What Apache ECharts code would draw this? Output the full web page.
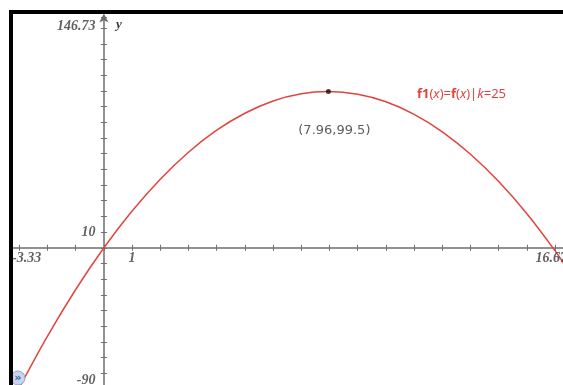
<!DOCTYPE html>
<html>
<head>
<meta charset="utf-8">
<script src="https://cdn.jsdelivr.net/npm/echarts@6/dist/echarts.min.js"></script>
<style>
  html, body { margin: 0; padding: 0; background: #fff; }
  #chart { width: 563px; height: 385px; }
</style>
</head>
<body>
<div id="chart"></div>
<script>
// Window of the graph
const xMin = -3.33, xMax = 16.67;
const yMin = -90, yMax = 146.73;

// Tick marks and the few labelled ticks
const xTickValues = [-3, -2, -1, 0, 1, 2, 3, 4, 5, 6, 7, 8, 9, 10, 11, 12, 13, 14, 15, 16];
const xLabelValues = [-3.33, 1, 16.67];
const yLabelValues = [-90, 10, 146.73];

// Sampled points of f1(x) = f(x)|k=25
const curveX = [-3.33, -3, -2, -1, 0, 1, 2, 3, 4, 5, 6, 7, 7.96, 9, 10, 11, 12, 13, 14, 15, 16, 16.67];
const curveY = [-100.7, -89.1, -56.3, -26.6, 0, 23.4, 43.7, 60.9, 74.9, 85.7, 93.5, 98.1, 99.5, 97.8, 93.0, 85.0, 73.9, 59.6, 42.2, 21.7, -2.0, -19.6];

// Maximum point
const peak = [7.96, 99.5];
const peakText = '(7.96,99.5)';

const curveColor = '#e2433f';
const axisColor = '#6e6e6e';
const labelFont = { fontFamily: 'Liberation Serif', fontStyle: 'italic', fontWeight: 'bold', fontSize: 14, color: '#3a3a3a' };

const chart = echarts.init(document.getElementById('chart'), null, { renderer: 'canvas' });

const baseX = {
  type: 'value', min: xMin, max: xMax, gridIndex: 0,
  splitLine: { show: false }, axisLabel: { show: false }
};
const baseY = {
  type: 'value', min: yMin, max: yMax, interval: 10, gridIndex: 0,
  splitLine: { show: false }, axisLabel: { show: false }
};

// Tick labels sit on the axes that cross at the origin
const xLabelData = xLabelValues.map((v, i) => ({
  value: [v, 0],
  label: { align: i === 0 ? 'left' : (i === xLabelValues.length - 1 ? 'right' : 'center'),
           offset: i === 0 ? [2, 0] : (i === xLabelValues.length - 1 ? [-7, 0] : [0, 0]) }
}));
const yLabelData = yLabelValues.map((v, i) => ({
  value: [0, v],
  label: { verticalAlign: i === 0 ? 'bottom' : (i === yLabelValues.length - 1 ? 'top' : 'middle'),
           offset: i === 0 ? [0, -2] : (i === yLabelValues.length - 1 ? [0, 2] : [0, 0]) }
}));

const hiddenMark = { symbol: 'circle', symbolSize: 1, itemStyle: { color: 'rgba(0,0,0,0)' } };

chart.setOption({
  animation: false,
  backgroundColor: '#fff',
  grid: { left: 10, top: 17.5, width: 564, height: 371.5, outerBoundsMode: 'none', containLabel: false },
  xAxis: [
    Object.assign({}, baseX, {
      position: 'bottom',
      axisLine: { onZero: true, lineStyle: { color: axisColor, width: 1.5 } },
      axisTick: { customValues: xTickValues, length: 3, lineStyle: { color: axisColor, width: 1 } }
    }),
    Object.assign({}, baseX, {
      position: 'bottom',
      axisLine: { show: false, onZero: true, onZeroAxisIndex: 0 },
      axisTick: { inside: true, customValues: xTickValues, length: 3, lineStyle: { color: axisColor, width: 1 } }
    })
  ],
  yAxis: [
    Object.assign({}, baseY, {
      position: 'left',
      axisLine: { onZero: true, symbol: ['none', 'arrow'], symbolSize: [7, 9], symbolOffset: [0, 4],
        lineStyle: { color: axisColor, width: 1.5 } },
      axisTick: { length: 3, lineStyle: { color: axisColor, width: 1 } }
    }),
    Object.assign({}, baseY, {
      position: 'left',
      axisLine: { show: false, onZero: true, onZeroAxisIndex: 0 },
      axisTick: { inside: true, length: 3, lineStyle: { color: axisColor, width: 1 } }
    })
  ],
  series: [
    {
      type: 'line',
      xAxisIndex: 0, yAxisIndex: 0,
      data: curveX.map((x, i) => [x, curveY[i]]),
      smooth: 0.35,
      showSymbol: false,
      clip: true,
      lineStyle: { color: curveColor, width: 1.5 },
      z: 3
    },
    {
      type: 'scatter',
      xAxisIndex: 0, yAxisIndex: 0,
      data: [peak],
      symbolSize: 5,
      itemStyle: { color: '#111' },
      label: {
        show: true, position: 'bottom', distance: 30, offset: [6, 0],
        formatter: peakText,
        fontFamily: 'DejaVu Sans', fontSize: 13, color: '#333'
      },
      z: 4
    },
    Object.assign({
      // x tick labels
      type: 'scatter', xAxisIndex: 0, yAxisIndex: 0, clip: false, silent: true,
      data: xLabelData,
      label: Object.assign({ show: true, position: 'bottom', distance: 3, formatter: p => String(p.value[0]) }, labelFont),
      z: 5
    }, hiddenMark),
    Object.assign({
      // y tick labels
      type: 'scatter', xAxisIndex: 0, yAxisIndex: 0, clip: false, silent: true,
      data: yLabelData,
      label: Object.assign({ show: true, position: 'left', distance: 8, formatter: p => String(p.value[1]) }, labelFont),
      z: 5
    }, hiddenMark)
  ],
  graphic: [
    // frame
    { type: 'rect', shape: { x: 0, y: 0, width: 563, height: 10 }, style: { fill: '#fff' }, z: 100 },
    { type: 'rect', shape: { x: 0, y: 0, width: 9, height: 385 }, style: { fill: '#fff' }, z: 100 },
    { type: 'rect', shape: { x: 9, y: 10, width: 554, height: 4 }, style: { fill: '#000' }, z: 101 },
    { type: 'rect', shape: { x: 9, y: 10, width: 4, height: 375 }, style: { fill: '#000' }, z: 101 },
    // axis name
    { type: 'text', left: 116, top: 18, style: { text: 'y', font: 'italic bold 13px "Liberation Serif"', fill: '#3a3a3a' }, z: 50 },
    // function label
    {
      type: 'text', left: 417, top: 88, z: 50,
      style: {
        text: '{b|f1}{n|(}{i|x}{n|)=}{b|f}{n|(}{i|x}{n|)|}{i|k}{n|=25}',
        rich: {
          b: { fontFamily: 'Noto Sans', fontWeight: 'bold', fontSize: 13, fill: curveColor },
          n: { fontFamily: 'Noto Sans', fontSize: 13, fill: curveColor },
          i: { fontFamily: 'Noto Sans', fontStyle: 'italic', fontSize: 13, fill: curveColor }
        }
      }
    },
    // collapse button
    { type: 'circle', shape: { cx: 18, cy: 378, r: 7 }, style: { fill: '#c9d5e8', stroke: '#8fa3c4', lineWidth: 1 }, z: 60 },
    { type: 'text', x: 18, y: 378, style: { text: '»', font: 'bold 11px "DejaVu Sans"', fill: '#2d5fae', align: 'center', verticalAlign: 'middle' }, z: 61 }
  ]
});
</script>
</body>
</html>
